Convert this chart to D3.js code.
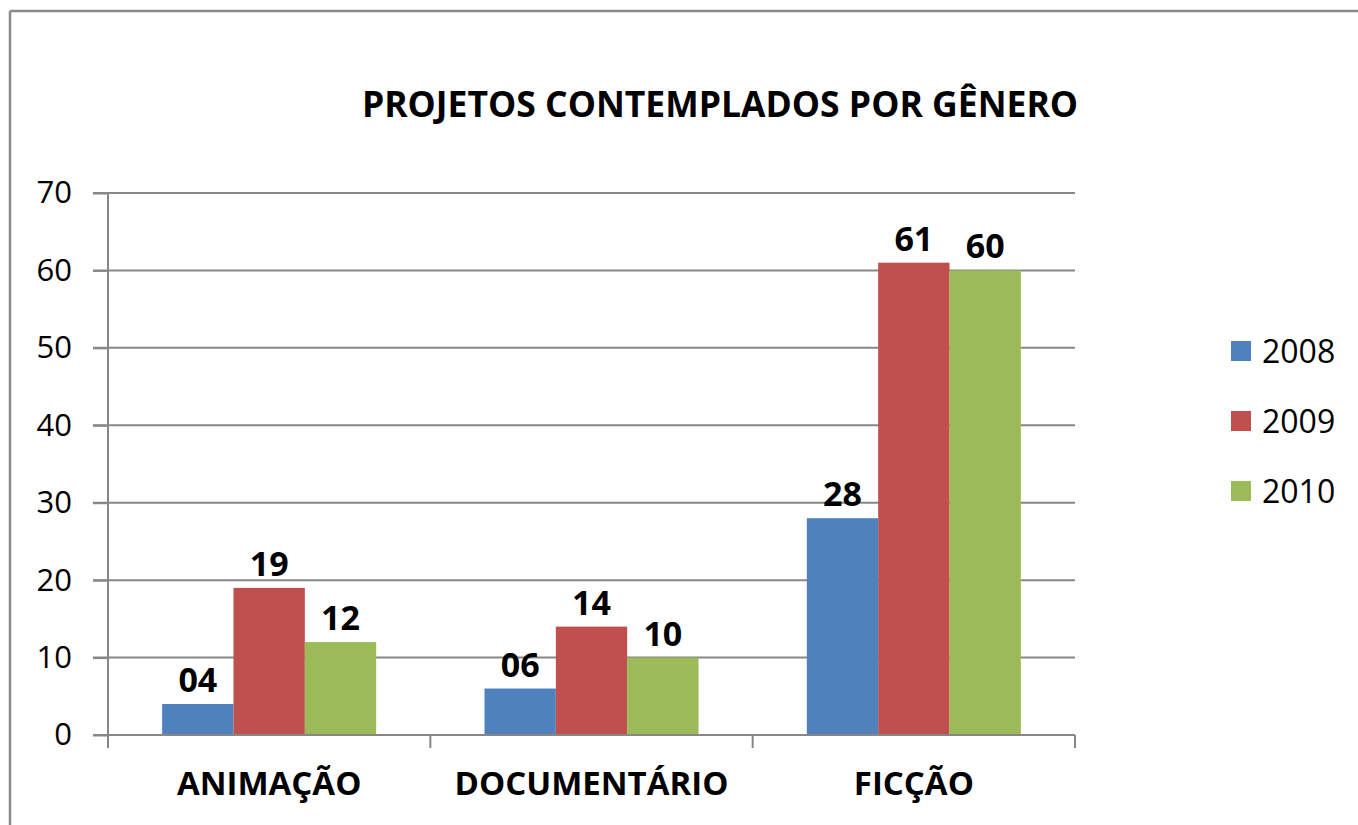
<!DOCTYPE html>
<html>
<head>
<meta charset="utf-8">
<script src="https://cdn.jsdelivr.net/npm/d3@7"></script>
<style>
  body { margin: 0; background: #fff; }
  svg text { font-family: "Open Sans", "DejaVu Sans", sans-serif; fill: #000; }
</style>
</head>
<body>
<div id="chart"></div>
<script>
// data
var categories = ["ANIMAÇÃO", "DOCUMENTÁRIO", "FICÇÃO"];
var years = ["2008", "2009", "2010"];
var values2008 = [4, 6, 28];
var values2009 = [19, 14, 61];
var values2010 = [12, 10, 60];
var valueLabels2008 = ["04", "06", "28"];
var valueLabels2009 = ["19", "14", "61"];
var valueLabels2010 = ["12", "10", "60"];
var yTicks = [0, 10, 20, 30, 40, 50, 60, 70];
var colors = ["#4F81BD", "#C0504D", "#9BBB59"];

var seriesValues = [values2008, values2009, values2010];
var seriesLabels = [valueLabels2008, valueLabels2009, valueLabels2010];

var W = 1358, H = 825;
var margin = { top: 193, left: 108, right: 283, bottom: 90 };
var width = W - margin.left - margin.right,
    height = H - margin.top - margin.bottom;

var svg = d3.select("#chart").append("svg")
  .attr("width", W)
  .attr("height", H);

// frame (only top and left edges are visible in the picture)
svg.append("line").attr("x1", 10).attr("x2", W).attr("y1", 11).attr("y2", 11)
  .attr("stroke", "#8a8a8a").attr("stroke-width", 2.5);
svg.append("line").attr("x1", 10).attr("x2", 10).attr("y1", 11).attr("y2", H)
  .attr("stroke", "#8a8a8a").attr("stroke-width", 2.5);

svg.append("text")
  .attr("x", 720)
  .attr("y", 117)
  .attr("text-anchor", "middle")
  .style("font-size", "35.5px")
  .style("font-weight", "bold")
  .text("PROJETOS CONTEMPLADOS POR GÊNERO");

var g = svg.append("g")
  .attr("transform", "translate(" + margin.left + "," + margin.top + ")");

var x = d3.scaleBand().domain(categories).range([0, width]);
var xs = d3.scaleBand().domain(years)
  .range([x.bandwidth() * 0.168, x.bandwidth() * 0.832]);
var y = d3.scaleLinear().domain([0, 70]).range([height, 0]);

// gridlines
g.append("g").selectAll("line")
  .data(yTicks.slice(1))
  .enter().append("line")
  .attr("x1", -15)
  .attr("x2", width)
  .attr("y1", function(d) { return y(d); })
  .attr("y2", function(d) { return y(d); })
  .attr("stroke", "#878787")
  .attr("stroke-width", 2);

// y axis
var yAxis = d3.axisLeft(y).tickValues(yTicks).tickSize(15).tickPadding(21);
var yg = g.append("g").call(yAxis);
yg.select(".domain").remove();
yg.selectAll("line").attr("stroke", "#878787").attr("stroke-width", 2);
yg.selectAll("text").style("font-size", "31px").style("font-family", "'Open Sans', sans-serif")
  .attr("fill", "#1a1a1a");
g.append("line").attr("x1", 0).attr("x2", 0).attr("y1", 0).attr("y2", height)
  .attr("stroke", "#878787").attr("stroke-width", 2);

// bars
seriesValues.forEach(function(vals, s) {
  var grp = g.append("g");
  grp.selectAll("rect")
    .data(vals)
    .enter().append("rect")
    .attr("x", function(d, i) { return x(categories[i]) + xs(years[s]); })
    .attr("width", xs.bandwidth())
    .attr("y", function(d) { return y(d); })
    .attr("height", function(d) { return height - y(d); })
    .attr("fill", colors[s]);
  grp.selectAll("text")
    .data(vals)
    .enter().append("text")
    .attr("x", function(d, i) { return x(categories[i]) + xs(years[s]) + xs.bandwidth() / 2; })
    .attr("y", function(d) { return y(d) - 12; })
    .attr("text-anchor", "middle")
    .style("font-size", "34px")
    .style("font-weight", "bold")
    .text(function(d, i) { return seriesLabels[s][i]; });
});

// x axis
g.append("line").attr("x1", -15).attr("x2", width).attr("y1", height).attr("y2", height)
  .attr("stroke", "#878787").attr("stroke-width", 2);
g.append("g").selectAll("line")
  .data(d3.range(categories.length + 1))
  .enter().append("line")
  .attr("x1", function(d) { return d * x.step(); })
  .attr("x2", function(d) { return d * x.step(); })
  .attr("y1", height)
  .attr("y2", height + 13)
  .attr("stroke", "#878787")
  .attr("stroke-width", 2);

var xg = g.append("g")
  .attr("transform", "translate(0," + height + ")")
  .call(d3.axisBottom(x).tickSize(0).tickPadding(37));
xg.select(".domain").remove();
xg.selectAll("text")
  .style("font-size", "33px")
  .style("font-weight", "bold")
  .style("font-family", "'Open Sans', sans-serif")
  .attr("fill", "#000");

// legend
var legend = svg.append("g").attr("transform", "translate(1231,351)");
var items = legend.selectAll("g")
  .data(years)
  .enter().append("g")
  .attr("transform", function(d, i) { return "translate(0," + (i * 70) + ")"; });
items.append("rect")
  .attr("x", 0).attr("y", -10)
  .attr("width", 20).attr("height", 20)
  .attr("fill", function(d, i) { return colors[i]; });
items.append("text")
  .attr("x", 31)
  .attr("dy", "0.36em")
  .style("font-size", "32px")
  .attr("fill", "#1a1a1a")
  .text(function(d) { return d; });
</script>
</body>
</html>
